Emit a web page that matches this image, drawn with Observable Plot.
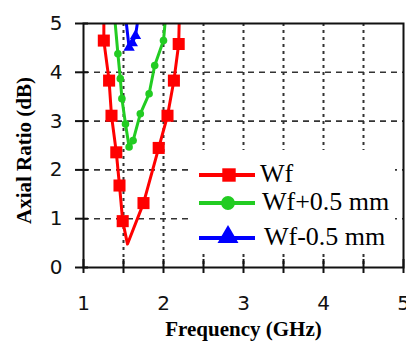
<!DOCTYPE html>
<html><head><meta charset="utf-8">
<script src="https://cdn.jsdelivr.net/npm/d3@7"></script>
<script src="https://cdn.jsdelivr.net/npm/@observablehq/plot@0.6"></script>
<style>
body{margin:0;background:#fff;}
#wrap{position:relative;width:406px;height:347px;}
#legend{position:absolute;left:193px;top:150px;width:202px;height:102px;background:#fff;}
</style>
</head><body>
<div id="wrap"><div id="chart"></div><div id="legend"></div></div>
<script>
// Wf (red) curve
const redFreq = [1.255, 1.254, 1.32, 1.35, 1.41, 1.45, 1.49, 1.55, 1.75, 1.94, 2.05, 2.13, 2.19, 2.20];
const redAR   = [5.30, 4.65, 3.83, 3.11, 2.36, 1.68, 0.95, 0.48, 1.32, 2.45, 3.11, 3.83, 4.58, 5.30];
const redMarkFreq = [1.254, 1.32, 1.35, 1.41, 1.45, 1.49, 1.75, 1.94, 2.05, 2.13, 2.19];
const redMarkAR   = [4.65, 3.83, 3.11, 2.36, 1.68, 0.95, 1.32, 2.45, 3.11, 3.83, 4.58];
// Wf+0.5 mm (green)
const greenFreq = [1.38, 1.43, 1.46, 1.48, 1.525, 1.57, 1.62, 1.71, 1.82, 1.89, 2.00, 2.035];
const greenAR   = [5.30, 4.38, 3.87, 3.46, 2.94, 2.47, 2.60, 3.15, 3.56, 4.14, 4.65, 5.30];
// Wf-0.5 mm (blue)
const blueFreq = [1.515, 1.57, 1.61, 1.65, 1.70];
const blueAR   = [5.30, 4.51, 4.60, 4.75, 5.30];

const xLabels = [1, 2, 3, 4, 5];
const xTicks = [1, 1.5, 2, 2.5, 3, 3.5, 4, 4.5, 5];
const xGrid = [1.5, 2, 2.5, 3, 3.5, 4, 4.5];
const yTicks = [0, 1, 2, 3, 4, 5];
const yGrid = [1, 2, 3, 4];

const series = [
  {name: "Wf", color: "#ff0000", symbol: "square", f: redFreq, a: redAR, mf: redMarkFreq, ma: redMarkAR, r: 6.8},
  {name: "Wf+0.5 mm", color: "#22cc22", symbol: "circle", f: greenFreq, a: greenAR, mf: greenFreq, ma: greenAR, r: 3.8},
  {name: "Wf-0.5 mm", color: "#0000ff", symbol: "triangle", f: blueFreq, a: blueAR, mf: blueFreq, ma: blueAR, r: 4.2}
];

const marks = [
  Plot.ruleY(yGrid, {stroke: "#333", strokeWidth: 1.6, strokeDasharray: "6,5"}),
  Plot.ruleX(xGrid, {stroke: "#333", strokeWidth: 2, strokeDasharray: "3,4"})
];
for (const s of series) {
  const pts = s.f.map((f, i) => ({f, a: s.a[i]}));
  const mpts = s.mf.map((f, i) => ({f, a: s.ma[i]})).filter(d => d.a < 5);
  marks.push(Plot.line(pts, {x: "f", y: "a", stroke: s.color, strokeWidth: 3, clip: true}));
  marks.push(Plot.dot(mpts, {x: "f", y: "a", fill: s.color, symbol: s.symbol, r: s.r, clip: true}));
}
const fmt = d3.format("d");
marks.push(
  Plot.frame({stroke: "#111", strokeWidth: 2}),
  Plot.axisX({ticks: xTicks, tickSize: 6, tickFormat: () => "", strokeWidth: 2, stroke: "#111", label: null}),
  Plot.axisX({ticks: xTicks, tickSize: -8, tickFormat: () => "", strokeWidth: 2, stroke: "#111", label: null}),
  Plot.axisX({ticks: xLabels, tickSize: 0, tickPadding: 28, tickFormat: fmt, fontSize: 20, fontFamily: "DejaVu Sans", fill: "#111", label: null}),
  Plot.axisY({ticks: yTicks, tickSize: 8, tickFormat: () => "", strokeWidth: 2, stroke: "#111", label: null}),
  Plot.axisY({ticks: yTicks, tickSize: -5, tickFormat: () => "", strokeWidth: 2, stroke: "#111", label: null}),
  Plot.axisY({ticks: yTicks, tickSize: 0, tickPadding: 21, tickFormat: fmt, fontSize: 20, fontFamily: "DejaVu Sans", fill: "#111", label: null}),
  Plot.text(["Frequency (GHz)"], {frameAnchor: "bottom", dy: 68, fontSize: 21, fontWeight: "bold", fontFamily: "Liberation Serif", fill: "#000"}),
  Plot.text(["Axial Ratio (dB)"], {frameAnchor: "left", dx: -59, dy: 5, rotate: -90, textAnchor: "middle", fontSize: 21, fontWeight: "bold", fontFamily: "Liberation Serif", fill: "#000"})
);

const chart = Plot.plot({
  width: 406, height: 347,
  marginLeft: 83, marginRight: 3, marginTop: 23, marginBottom: 80,
  x: {domain: [1, 5]},
  y: {domain: [0, 5]},
  style: {background: "#fff"},
  marks
});
document.getElementById("chart").appendChild(chart);

// legend
const lsvg = d3.select("#legend").append("svg").attr("width", 202).attr("height", 102).style("overflow", "visible");
const rows = [25, 53, 88];
series.forEach((s, i) => {
  const g = lsvg.append("g").attr("transform", `translate(0,${rows[i]})`);
  g.append("line").attr("x1", 6).attr("x2", 62).attr("y1", 0).attr("y2", 0).attr("stroke", s.color).attr("stroke-width", 4);
  const sym = s.symbol === "square" ? d3.symbolSquare : s.symbol === "circle" ? d3.symbolCircle : d3.symbolTriangle;
  const size = s.symbol === "square" ? 180 : s.symbol === "circle" ? 150 : 190;
  g.append("path").attr("d", d3.symbol(sym, size)()).attr("transform", `translate(${s.symbol === "square" ? 36 : 35},${s.symbol === "triangle" ? -1 : 0})`).attr("fill", s.color);
  g.append("text").attr("x", 67 + i * 2).attr("y", 7).attr("font-family", "Liberation Serif").attr("font-size", 26).attr("fill", "#000").text(s.name);
});
</script>
</body></html>
